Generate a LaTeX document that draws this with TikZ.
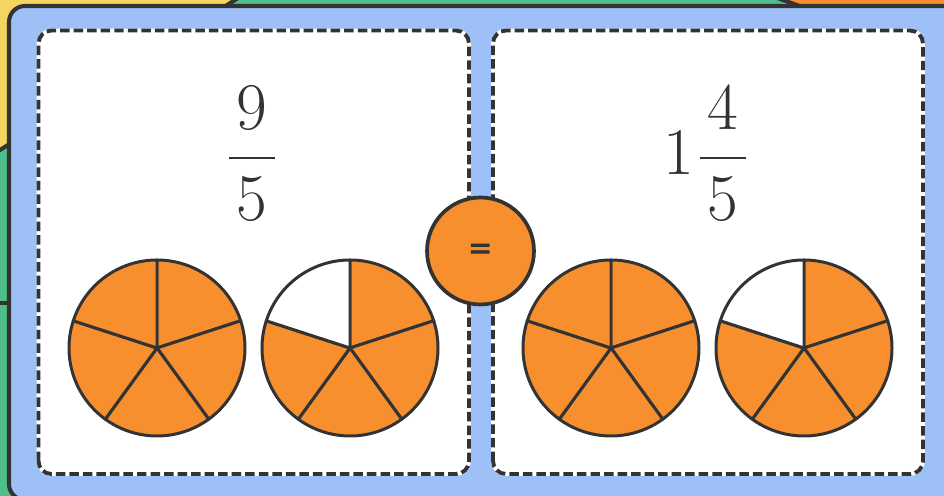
\RequirePackage{fix-cm}
\documentclass[tikz,border=0pt]{standalone}
\usepackage{amsmath}
\usepackage{fontspec}
\usepackage{xcolor}
\usepackage{tikz}
\usetikzlibrary{positioning}
\newfontfamily\eqfont[BoldFont={DejaVu Sans Bold}]{DejaVu Sans}
\definecolor{CardBlue}{RGB}{157,193,247}
\definecolor{CardGreen}{RGB}{78,191,139}
\definecolor{CardYellow}{RGB}{245,213,96}
\definecolor{PieOrange}{RGB}{247,143,46}
\definecolor{InkDark}{RGB}{51,51,51}
\newcommand{\padfrac}[2]{\frac{\mkern2mu#1\mkern2mu}{\mkern2mu#2\mkern2mu}}
\begin{document}
\begin{tikzpicture}[
    x=0.02cm, y=0.02cm,
    card/.style={draw=InkDark, line width=2.3pt, line join=round},
    panel/.style={fill=white, draw=InkDark, line width=2.2pt, dash pattern=on 5.4pt off 2.3pt, rounded corners=0.26cm, preaction={draw=white, line width=2.2pt}},
    slice/.style={draw=InkDark, line width=1.7pt, line join=round},
    fracnum/.style={inner sep=0pt, text=InkDark, font=\fontsize{38}{44}\selectfont},
    eqdot/.style={circle, draw=InkDark, line width=2.1pt, fill=PieOrange, minimum size=2.14cm, inner sep=0pt, text=InkDark, font=\eqfont\bfseries\fontsize{17}{19}\selectfont}
  ]
    \useasboundingbox (0,0) rectangle (944,496);
    \clip (0,0) rectangle (944,496);
    \fill[CardGreen] (0,0) rectangle (944,496);
    \filldraw[card, fill=CardGreen] (-40,-40) rectangle (40,193);
    \filldraw[card, fill=CardYellow] (-20,333.2) -- (250,505.6) -- (-20,505.6) -- cycle;
    \filldraw[card, fill=PieOrange] (770,500.6) -- (960,432.8) -- (960,510) -- (770,510) -- cycle;
    \filldraw[card, fill=CardBlue, rounded corners=0.32cm] (9,-4) rectangle (965,490);
    \draw[panel] (38.5,22) rectangle (469,465.5);
    \draw[panel] (493,22) rectangle (923,465.5);
    \node[fracnum, anchor=base] (improper) at (252,321) {$\displaystyle\padfrac{9}{5}$};
    \node[fracnum, anchor=base east] (mixed) at (748,321) {$\displaystyle 1\mkern1mu\padfrac{4}{5}$};
    \node[eqdot] (equals) at (480.5,245) {=};
    \foreach \cx/\nfill in {157/5, 350/4, 611/5, 804/4} {
      \foreach \k in {1,...,5} {
        \pgfmathsetmacro\angA{90-72*(\k-1)}
        \pgfmathsetmacro\angB{90-72*\k}
        \ifnum\k>\nfill \def\piecol{white}\else\def\piecol{PieOrange}\fi
        \filldraw[slice, fill=\piecol] (\cx,148) -- ++(\angA:88) arc[start angle=\angA, end angle=\angB, radius=88] -- cycle;
      }
    }
  \end{tikzpicture}
\end{document}
